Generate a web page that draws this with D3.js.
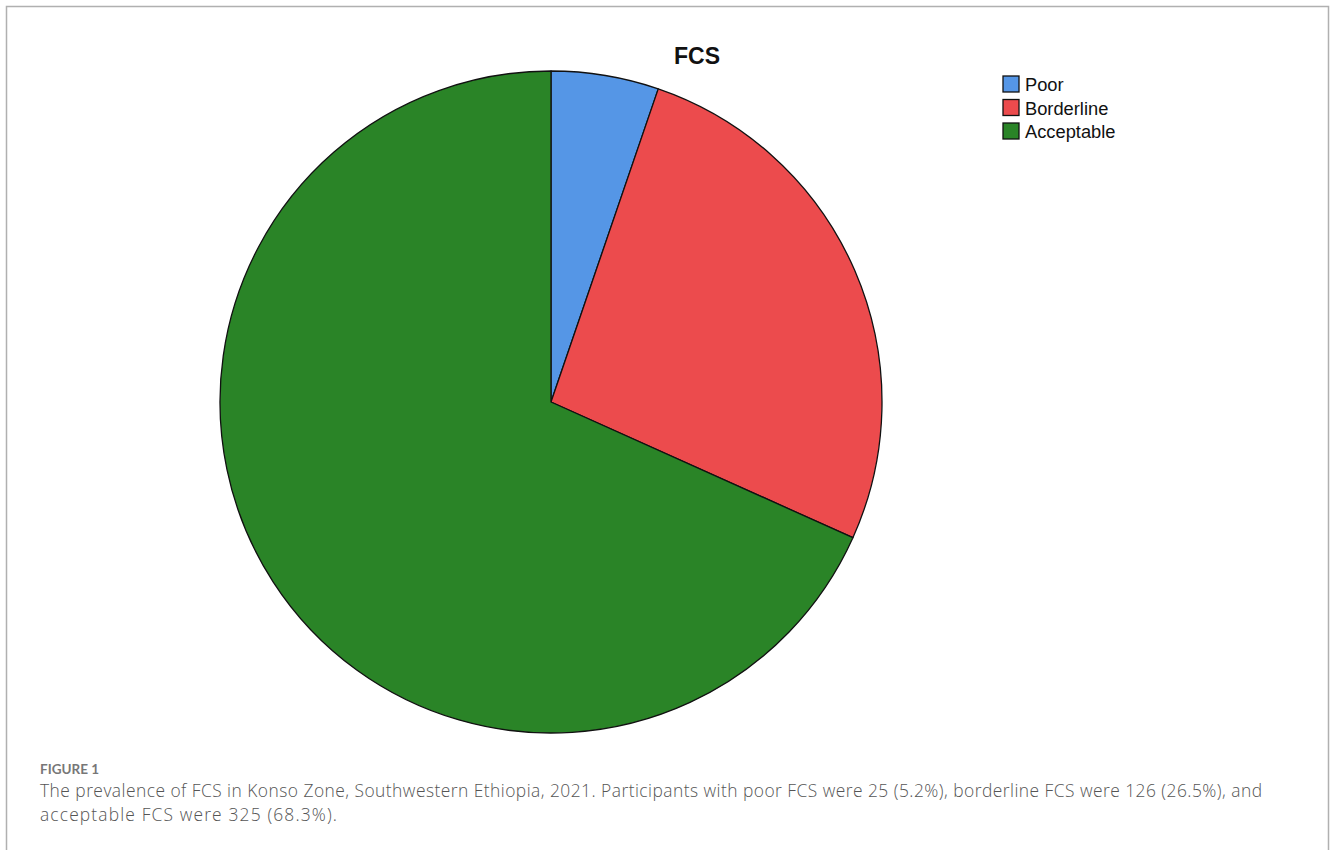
<!DOCTYPE html>
<html><head><meta charset="utf-8">
<script src="https://cdn.jsdelivr.net/npm/d3@7"></script>
<style>body{margin:0;background:#fff;} svg{display:block;}</style>
</head><body>
<script>
const categories = ["Poor", "Borderline", "Acceptable"];
const counts = [25, 126, 325];
const colors = ["#5596e6", "#ec4b4d", "#2a8427"];
const chartTitle = "FCS";
const figLabel = "FIGURE 1";
const captionLines = [
  "The prevalence of FCS in Konso Zone, Southwestern Ethiopia, 2021. Participants with poor FCS were 25 (5.2%), borderline FCS were 126 (26.5%), and",
  "acceptable FCS were 325 (68.3%)."
];
const captionWidths = [1222, 297];

const W = 1330, H = 850;
const svg = d3.select("body").append("svg").attr("width", W).attr("height", H);

// frame
svg.append("path").attr("d", `M6.5,${H} V6.5 H1328.5 V${H}`)
  .attr("fill", "none").attr("stroke", "#b0b0b0").attr("stroke-width", 1.5);

const cx = 551, cy = 402, r = 331;
const pie = d3.pie().sort(null).value(d => d)(counts);
const arc = d3.arc().innerRadius(0).outerRadius(r);
svg.append("g").attr("transform", `translate(${cx},${cy})`)
  .selectAll("path").data(pie).join("path")
  .attr("d", arc).attr("fill", (d, i) => colors[i])
  .attr("stroke", "#111").attr("stroke-width", 1.3).attr("stroke-linejoin", "round");

svg.append("text").attr("x", 697).attr("y", 64).attr("text-anchor", "middle")
  .attr("font-family", "Liberation Sans, Arial, sans-serif").attr("font-weight", "bold")
  .attr("font-size", 23).attr("fill", "#111").text(chartTitle);

const lg = svg.append("g").attr("transform", "translate(1003,76)");
categories.forEach((c, i) => {
  const g = lg.append("g").attr("transform", `translate(0,${i * 23.5})`);
  g.append("rect").attr("x", 0).attr("y", 0).attr("width", 16).attr("height", 16)
    .attr("fill", colors[i]).attr("stroke", "#111").attr("stroke-width", 1.3);
  g.append("text").attr("x", 22).attr("y", 15)
    .attr("font-family", "Liberation Sans, Arial, sans-serif").attr("font-size", 18.3)
    .attr("fill", "#111").text(c);
});

svg.append("text").attr("x", 40).attr("y", 774)
  .attr("font-family", "Lato, Open Sans, sans-serif").attr("font-weight", "bold")
  .attr("font-size", 13.5).attr("fill", "#777").text(figLabel);
captionLines.forEach((t, i) => {
  svg.append("text").attr("x", 40).attr("y", 797 + i * 23.5)
    .attr("font-family", "Open Sans, sans-serif").attr("font-weight", 300)
    .attr("font-size", 17.4).attr("fill", "#555")
    .attr("textLength", captionWidths[i]).attr("lengthAdjust", "spacing").text(t);
});
</script>
</body></html>
